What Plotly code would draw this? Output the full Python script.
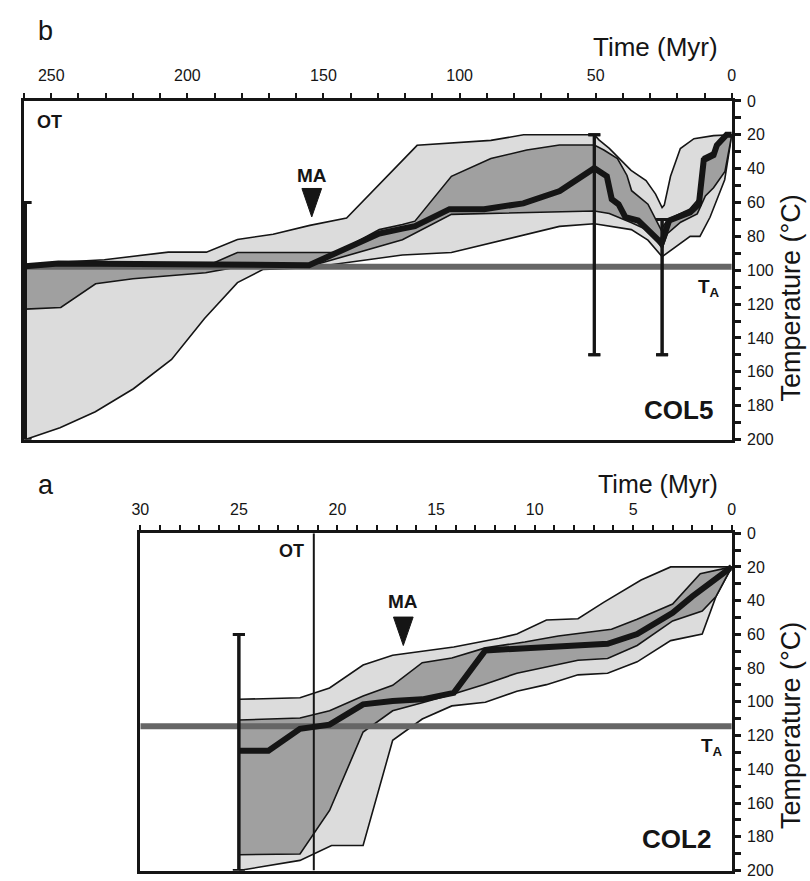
import plotly.graph_objects as go

W, H = 810, 881
FONT = "Liberation Sans, Arial, Helvetica, sans-serif"
INK = "#151515"
LIGHT = "#dcdcdc"
DARK = "#a0a0a0"
TA_GREY = "#666666"

# ---------------- COL5 (panel b) ----------------
col5_best_t = [259.5, 247.4, 155.3, 129.5, 121.0, 116.4, 103.7, 91.0, 76.6, 63.2, 50.5, 45.9, 44.1,
               41.6, 39.1, 34.4, 25.8, 23.0, 15.3, 12.1, 10.3, 6.7, 5.5, 1.9, 0.0]
col5_best_T = [97.6, 96.0, 97.0, 78.3, 75.4, 74.0, 63.9, 63.9, 60.5, 53.2, 39.7, 44.5, 58.0,
               61.0, 68.7, 70.6, 84.0, 70.6, 65.8, 61.0, 34.9, 32.0, 26.2, 20.0, 20.0]

col5_acc_up_t = [259.5, 247.0, 230.5, 207.0, 193.0, 181.6, 168.5, 155.0, 141.5, 121.0, 115.6, 88.5, 76.5,
                 50.5, 48.8, 45.0, 40.0, 37.0, 31.5, 28.0, 25.6, 24.8, 22.5, 18.9, 13.9, 6.7, 0.0]
col5_acc_up_T = [97.0, 95.3, 93.8, 89.3, 89.3, 81.8, 78.7, 73.5, 69.2, 35.0, 26.2, 23.3, 20.0,
                 20.0, 23.0, 28.0, 36.0, 41.0, 47.0, 55.0, 63.0, 61.5, 44.5, 28.1, 22.3, 20.5, 20.0]
col5_acc_lo_t = [259.5, 246.8, 233.8, 219.8, 205.8, 193.7, 181.6, 172.3, 155.3, 121.0, 103.0, 63.3,
                 50.5, 36.9, 30.8, 25.6, 21.2, 15.3, 11.7, 8.0, 2.6, 0.0]
col5_acc_lo_T = [200.0, 193.0, 183.6, 170.0, 152.7, 128.5, 107.3, 99.6, 98.5, 91.0, 89.5, 74.1,
                 72.5, 76.0, 82.2, 92.0, 87.0, 80.0, 80.0, 68.7, 46.5, 20.0]

col5_good_up_t = [259.5, 200.0, 190.8, 181.6, 145.0, 129.5, 121.0, 116.4, 103.0, 88.5, 75.3, 63.3, 50.5,
                  47.0, 42.0, 38.5, 36.8, 30.8, 26.0, 23.5, 15.5, 12.3, 10.5, 6.7, 5.5, 2.0, 0.0]
col5_good_up_T = [97.0, 97.0, 96.0, 89.5, 89.5, 76.0, 73.0, 71.0, 44.5, 34.0, 29.0, 26.0, 26.0,
                  29.0, 34.0, 44.0, 53.0, 61.0, 76.0, 70.0, 64.0, 58.0, 33.0, 30.0, 25.0, 20.0, 20.0]
col5_good_lo_t = [259.5, 246.5, 233.7, 220.0, 193.3, 181.6, 155.3, 121.0, 103.0, 50.5, 45.0, 36.8,
                  30.0, 25.6, 23.6, 18.8, 12.7, 9.7, 6.7, 2.5, 0.0]
col5_good_lo_T = [123.0, 122.0, 108.0, 105.0, 101.5, 98.0, 97.8, 82.0, 67.0, 65.0, 66.5, 72.0,
                  77.0, 87.0, 78.3, 71.6, 66.7, 56.1, 51.3, 41.6, 20.0]

col5_err_t = [259.5, 50.5, 25.6]
col5_err_lo = [60.0, 20.0, 70.0]
col5_err_hi = [200.0, 150.0, 150.0]
col5_TA = 98.0
col5_MA = 154.3

# ---------------- COL2 (panel a) ----------------
col2_best_t = [25.0, 23.5, 21.9, 20.4, 18.7, 17.2, 15.7, 14.1, 12.5, 9.4, 7.9, 6.3, 4.8, 3.0, 2.0, 0.0]
col2_best_T = [129.0, 129.0, 116.0, 113.5, 101.5, 99.5, 98.5, 94.7, 69.5, 67.6, 66.6, 65.6, 59.8,
               47.2, 37.5, 20.0]

col2_acc_up_t = [25.0, 21.9, 20.4, 18.7, 17.2, 15.7, 14.1, 11.8, 10.9, 9.4, 7.8, 6.5, 4.6, 3.1, 0.0]
col2_acc_up_T = [98.5, 97.6, 91.8, 78.2, 72.4, 70.0, 67.5, 62.3, 59.8, 51.5, 50.7, 41.0, 27.8, 20.0, 20.0]
col2_acc_lo_t = [25.0, 21.9, 20.3, 18.7, 17.2, 15.7, 14.2, 12.5, 10.9, 9.4, 7.8, 6.3, 4.8, 3.1, 1.5, 0.8, 0.0]
col2_acc_lo_T = [200.0, 194.0, 185.2, 185.2, 122.8, 110.2, 102.4, 100.2, 93.7, 89.8, 84.0, 83.0, 76.3,
                 63.7, 59.8, 37.5, 20.0]

col2_good_up_t = [25.0, 21.9, 20.4, 18.7, 17.2, 15.7, 14.2, 12.5, 10.5, 8.8, 6.1, 4.8, 3.0, 1.6, 0.0]
col2_good_up_T = [110.8, 109.6, 105.3, 96.6, 90.2, 76.8, 74.0, 68.0, 64.5, 61.0, 57.0, 51.0, 42.0, 24.0, 20.0]
col2_good_lo_t = [25.0, 21.9, 20.4, 18.7, 17.2, 15.7, 14.2, 12.6, 10.9, 9.4, 7.8, 6.3, 4.8, 3.0, 1.5, 0.8, 0.0]
col2_good_lo_T = [190.6, 190.2, 164.4, 117.9, 105.3, 100.5, 95.6, 89.8, 83.0, 79.2, 75.3, 74.3, 66.6,
                  52.0, 46.2, 37.5, 20.0]

col2_err_t = [25.0]
col2_err_lo = [60.0]
col2_err_hi = [200.0]
col2_TA = 114.4
col2_MA = 16.66
col2_OT = 21.2

# axis ticks (time axes run old -> young, left -> right)
col5_time_ticks = [250, 200, 150, 100, 50, 0]
col2_time_ticks = [30, 25, 20, 15, 10, 5, 0]
temp_ticks = [0, 20, 40, 60, 80, 100, 120, 140, 160, 180, 200]

# ---------------- page geometry (pixels) ----------------
PB = dict(x0=15.3, x1=735.5, y0=94.8, y1=440.0, tmax=260.0)   # panel b
PA = dict(x0=133.6, x1=735.5, y0=535.5, y1=879.5, tmax=30.0)  # panel a


def px_per_myr(p):
    return (p["x1"] - p["x0"]) / p["tmax"]


def px_per_deg(p):
    return (p["y1"] - p["y0"]) / 200.0


fig = go.Figure()


def envelope(xa, ya, up_t, up_T, lo_t, lo_T, color):
    fig.add_trace(go.Scatter(
        x=up_t + lo_t[::-1], y=up_T + lo_T[::-1], xaxis=xa, yaxis=ya,
        mode="lines", fill="toself", fillcolor=color,
        line=dict(color=INK, width=1.6), hoverinfo="skip", showlegend=False))


def panel(xa, ya, p, acc, good, ta, best, err, ma_age, ma_tip_T):
    envelope(xa, ya, *acc, LIGHT)
    envelope(xa, ya, *good, DARK)
    # annealing temperature bar
    fig.add_trace(go.Scatter(x=[p["tmax"], 0], y=[ta, ta], xaxis=xa, yaxis=ya, mode="lines",
                             line=dict(color=TA_GREY, width=6), hoverinfo="skip", showlegend=False))
    # best-fit path
    fig.add_trace(go.Scatter(x=best[0], y=best[1], xaxis=xa, yaxis=ya, mode="lines",
                             line=dict(color=INK, width=6), hoverinfo="skip", showlegend=False))
    # constraint boxes drawn as bars with caps
    et, elo, ehi = err
    fig.add_trace(go.Scatter(
        x=et, y=elo, xaxis=xa, yaxis=ya, mode="markers", marker=dict(size=1, opacity=0),
        error_y=dict(type="data", symmetric=False, array=[h - l for h, l in zip(ehi, elo)],
                     arrayminus=[0] * len(et), color=INK, thickness=3, width=6),
        hoverinfo="skip", showlegend=False))
    fig.add_trace(go.Scatter(
        x=et, y=ehi, xaxis=xa, yaxis=ya, mode="markers", marker=dict(size=1, opacity=0),
        error_y=dict(type="data", symmetric=False, array=[0] * len(et),
                     arrayminus=[h - l for h, l in zip(ehi, elo)], color=INK, thickness=3, width=6),
        hoverinfo="skip", showlegend=False))
    # MA arrow head (20 px wide, 29 px tall)
    hw = 10.0 / px_per_myr(p)
    ht = 29.0 / px_per_deg(p)
    fig.add_trace(go.Scatter(
        x=[ma_age - hw, ma_age + hw, ma_age, ma_age - hw],
        y=[ma_tip_T - ht, ma_tip_T - ht, ma_tip_T, ma_tip_T - ht],
        xaxis=xa, yaxis=ya, mode="lines", fill="toself", fillcolor=INK,
        line=dict(color=INK, width=1), hoverinfo="skip", showlegend=False))


panel("x", "y", PB,
      (col5_acc_up_t, col5_acc_up_T, col5_acc_lo_t, col5_acc_lo_T),
      (col5_good_up_t, col5_good_up_T, col5_good_lo_t, col5_good_lo_T),
      col5_TA, (col5_best_t, col5_best_T), (col5_err_t, col5_err_lo, col5_err_hi),
      col5_MA, 68.5)
panel("x2", "y2", PA,
      (col2_acc_up_t, col2_acc_up_T, col2_acc_lo_t, col2_acc_lo_T),
      (col2_good_up_t, col2_good_up_T, col2_good_lo_t, col2_good_lo_T),
      col2_TA, (col2_best_t, col2_best_T), (col2_err_t, col2_err_lo, col2_err_hi),
      col2_MA, 66.6)

# onset time line in COL2
fig.add_trace(go.Scatter(x=[col2_OT, col2_OT], y=[0, 200], xaxis="x2", yaxis="y2", mode="lines",
                         line=dict(color=INK, width=2), hoverinfo="skip", showlegend=False))


def xaxis_cfg(p, ticks, minor_dt, anchor, standoff):
    return dict(domain=[p["x0"] / W, p["x1"] / W], range=[p["tmax"], 0], anchor=anchor,
                side="top", showline=True, linewidth=2.5, linecolor=INK, mirror=True,
                tickmode="array", tickvals=ticks, ticktext=[str(v) for v in ticks],
                ticks="outside", ticklen=5, tickwidth=2, tickcolor=INK, ticklabelstandoff=standoff,
                minor=dict(dtick=minor_dt, tick0=0, ticks="outside", ticklen=5, tickwidth=2,
                           tickcolor=INK, showgrid=False),
                showgrid=False, zeroline=False, fixedrange=True,
                tickfont=dict(family=FONT, size=16, color=INK))


def yaxis_cfg(p, anchor):
    return dict(domain=[1 - p["y1"] / H, 1 - p["y0"] / H], range=[200, 0], anchor=anchor,
                side="right", showline=True, linewidth=3, linecolor=INK, mirror=True,
                tickmode="array", tickvals=temp_ticks, ticktext=[str(v) for v in temp_ticks],
                ticks="outside", ticklen=6, tickwidth=2.5, tickcolor=INK, ticklabelstandoff=3,
                minor=dict(dtick=10, tick0=0, ticks="outside", ticklen=6, tickwidth=2.5,
                           tickcolor=INK, showgrid=False),
                showgrid=False, zeroline=False, fixedrange=True,
                tickfont=dict(family=FONT, size=16, color=INK))


def ann(text, x, y, size, xref="paper", yref="paper", xanchor="center", yanchor="middle",
        angle=0, bold=False):
    return dict(text=f"<b>{text}</b>" if bold else text, x=x, y=y, xref=xref, yref=yref,
                xanchor=xanchor, yanchor=yanchor, showarrow=False, textangle=angle,
                font=dict(family=FONT, size=size, color=INK))


annotations = [
    ann("b", 27 / W, 1 - 23 / H, 27, xanchor="left"),
    ann("a", 27 / W, 1 - 486 / H, 27, xanchor="left"),
    ann("Time (Myr)", 723 / W, 1 - 40 / H, 26, xanchor="right"),
    ann("Time (Myr)", 723 / W, 1 - 485 / H, 25, xanchor="right"),
    ann("Temperature (°C)", 796 / W, 1 - 296 / H, 27, angle=-90),
    ann("Temperature (°C)", 796 / W, 1 - 732 / H, 27, angle=-90),
    # panel b labels
    ann("OT", 256.0, 12.3, 18, "x", "y", xanchor="left", bold=True),
    ann("MA", col5_MA, 43.9, 19, "x", "y", bold=True),
    ann("COL5", 6.2, 182.6, 26, "x", "y", xanchor="right", bold=True),
    ann("T<sub>A</sub>", 8.2, 110.2, 19, "x", "y", bold=True),
    # panel a labels
    ann("OT", 21.6, 10.8, 18, "x2", "y2", xanchor="right", bold=True),
    ann("MA", col2_MA, 40.4, 19, "x2", "y2", bold=True),
    ann("COL2", 0.94, 181.4, 26, "x2", "y2", xanchor="right", bold=True),
    ann("T<sub>A</sub>", 1.02, 126.5, 19, "x2", "y2", bold=True),
]

fig.update_layout(
    width=W, height=H, margin=dict(l=0, r=0, t=0, b=0),
    paper_bgcolor="white", plot_bgcolor="white", showlegend=False,
    xaxis=xaxis_cfg(PB, col5_time_ticks, 10, "y", 6),
    yaxis=yaxis_cfg(PB, "x"),
    xaxis2=xaxis_cfg(PA, col2_time_ticks, 1, "y2", 4),
    yaxis2=yaxis_cfg(PA, "x2"),
    annotations=annotations,
    font=dict(family=FONT, color=INK),
)

fig.write_html("out.html", config={"displayModeBar": False})
